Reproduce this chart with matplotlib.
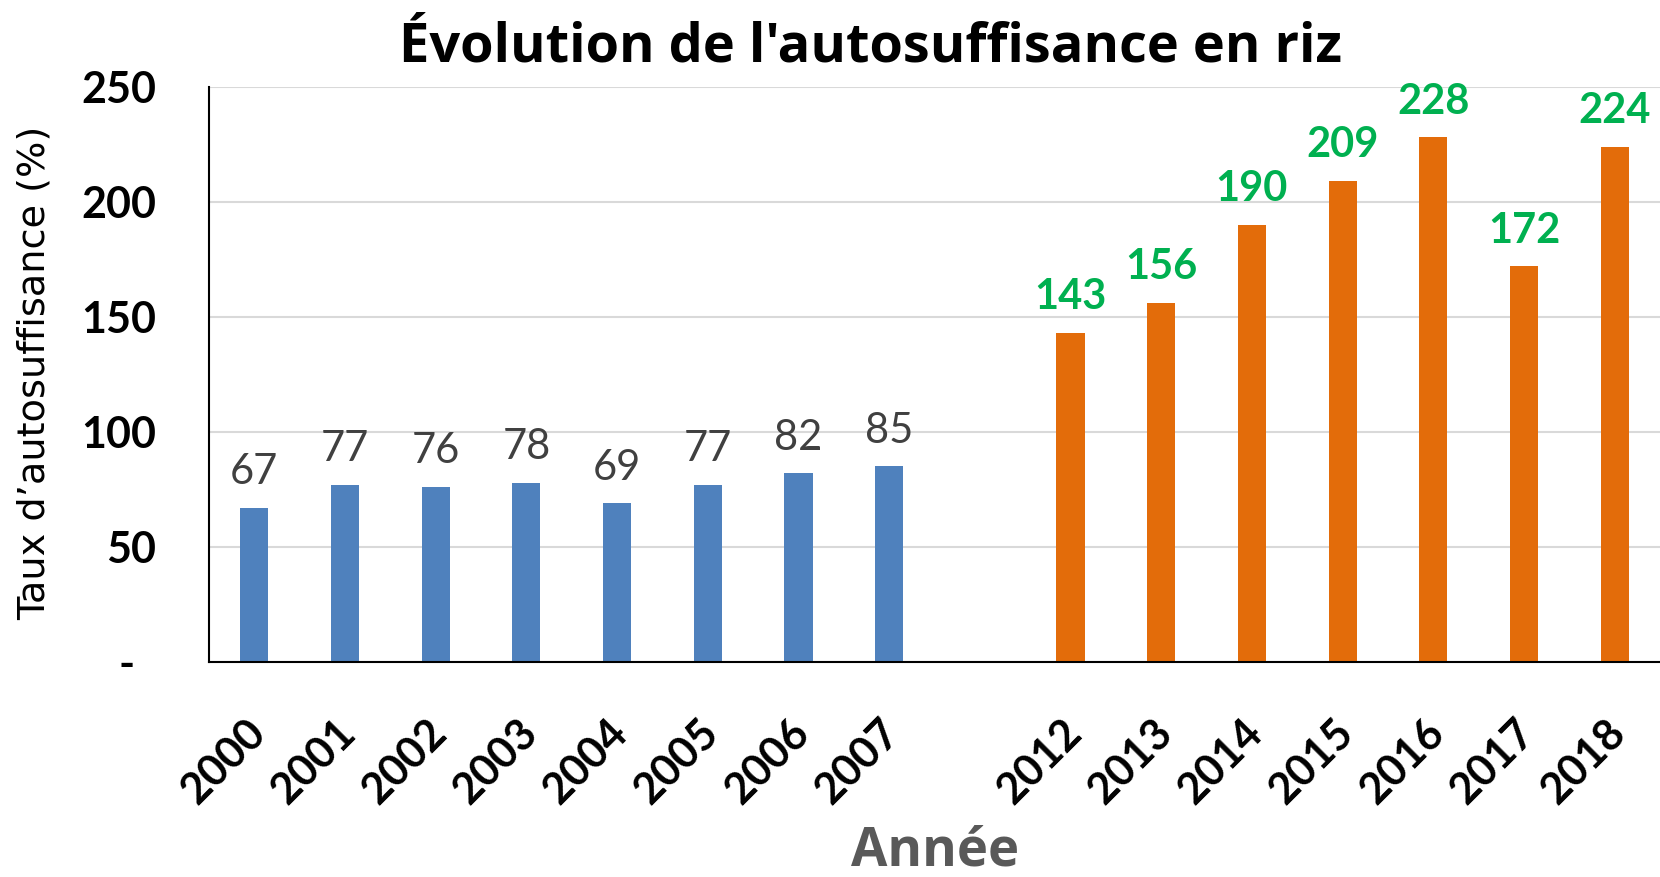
import matplotlib.pyplot as plt
import numpy as np

# === Data ===
years_before = ["2000", "2001", "2002", "2003", "2004", "2005", "2006", "2007"]
rate_before = [67, 77, 76, 78, 69, 77, 82, 85]
years_after = ["2012", "2013", "2014", "2015", "2016", "2017", "2018"]
rate_after = [143, 156, 190, 209, 228, 172, 224]

y_ticks = [0, 50, 100, 150, 200, 250]
y_tick_labels = ["-  ", "50", "100", "150", "200", "250"]

blue = "#4F81BD"
orange = "#E36C0A"
green = "#00B050"

# slots: one empty slot between 2007 and 2012
pos_before = np.arange(len(years_before))
pos_after = np.arange(len(years_after)) + len(years_before) + 1

# === Figure ===
fig = plt.figure(figsize=(16.6, 8.77), dpi=100)
ax = fig.add_axes([209 / 1660, 1 - 662 / 877, 1 - 209 / 1660, (662 - 86.7) / 877])

bw = 0.31
ax.bar(pos_before, rate_before, width=bw, color=blue, zorder=3)
ax.bar(pos_after, rate_after, width=bw, color=orange, zorder=3)

# data labels
for x, v in zip(pos_before, rate_before):
    ax.annotate(str(v), (x, v), xytext=(0, 17), textcoords="offset points",
                ha="center", va="baseline", fontsize=30, color="#404040",
                family="Lato", clip_on=False)
for x, v in zip(pos_after, rate_after):
    ax.annotate(str(v), (x, v), xytext=(0, 17), textcoords="offset points",
                ha="center", va="baseline", fontsize=30, color=green,
                fontweight="bold", family="Lato", clip_on=False)

ax.set_xlim(-0.5, len(years_before) + len(years_after) + 0.5)
ax.set_ylim(0, 250)

# ticks are invisible; nudge them a bit left so the rotated labels sit like Excel's
tick_pos = np.concatenate([pos_before, pos_after]) - 0.11
ax.set_xticks(tick_pos)
ax.set_xticklabels(years_before + years_after, rotation=45, ha="right", va="top",
                   rotation_mode="anchor", fontsize=31, fontweight="bold",
                   family="Lato")
ax.set_yticks(y_ticks)
ax.set_yticklabels(y_tick_labels, fontsize=31, fontweight="bold", family="Lato")
ax.tick_params(axis="x", length=0, pad=36)
ax.tick_params(axis="y", length=0, pad=38)

ax.grid(axis="y", color="#D9D9D9", linewidth=1.5, zorder=0)
ax.set_axisbelow(True)
for side in ["top", "right"]:
    ax.spines[side].set_visible(False)
for side in ["left", "bottom"]:
    ax.spines[side].set_color("black")
    ax.spines[side].set_linewidth(1.5)
    ax.spines[side].set_zorder(4)

# titles
fig.text(870 / 1660, 1 - 61 / 877, "Évolution de l'autosuffisance en riz",
         ha="center", va="baseline", fontsize=39, fontweight="bold", family="Open Sans")
fig.text(935 / 1660, 1 - 866 / 877, "Année", ha="center", va="baseline",
         fontsize=38, fontweight="bold", color="#595959", family="Open Sans")
fig.text(35 / 1660, 1 - 373 / 877, "Taux d’autosuffisance (%)", rotation=90,
         ha="center", va="center", fontsize=27.5, family="DejaVu Sans")

fig.savefig("out.png", dpi=100)
